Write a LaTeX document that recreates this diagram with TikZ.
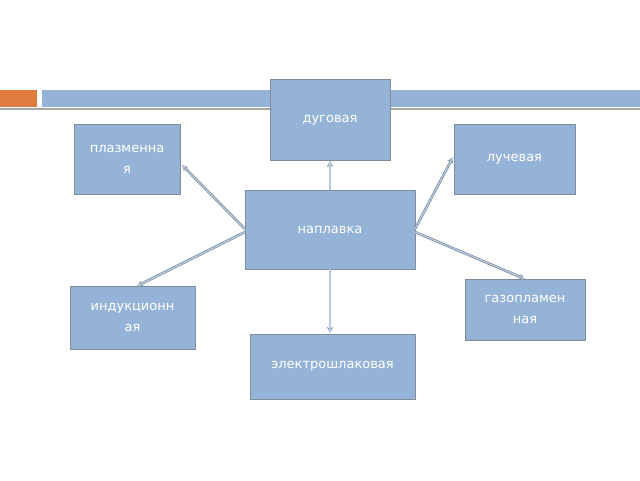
\documentclass[tikz,border=0pt]{standalone}
\usepackage{fontspec}
\setmainfont{DejaVu Sans}
\usetikzlibrary{arrows.meta}
\definecolor{boxfill}{HTML}{95B3D7}
\definecolor{boxline}{HTML}{7F8C99}
\definecolor{orng}{HTML}{E07B40}
\begin{document}
\begin{tikzpicture}[x=1pt,y=-1pt,
  bx/.style={draw=boxline,line width=1pt,fill=boxfill,text=white,font=\fontsize{13}{21}\selectfont,align=center,inner sep=0pt},
  conn/.style={draw=boxline,line width=2.6pt,-{Stealth[length=6pt,width=6pt]},shorten >=0pt},
  connin/.style={draw=boxfill!70!white,line width=1.2pt,-{Stealth[length=4pt,width=4pt]}}]
\useasboundingbox (0,0) rectangle (640,480);
\fill[white] (0,0) rectangle (640,480);
\fill[orng] (0,90) rectangle (37,107);
\fill[boxfill] (42,90) rectangle (640,107);
\fill[gray!70] (0,108) rectangle (640,110);
\node[bx,minimum width=120,minimum height=81] (d) at (330,120) {дуговая};
\node[bx,minimum width=106,minimum height=70] (p) at (127,159) {плазменна\\я};
\node[bx,minimum width=121,minimum height=70] (l) at (514.5,159) {лучевая};
\node[bx,minimum width=170,minimum height=79] (n) at (330,229.5) {наплавка};
\node[bx,minimum width=125,minimum height=63] (i) at (132.5,317.5) {индукционн\\ая};
\node[bx,minimum width=120,minimum height=61] (g) at (525,309.5) {газопламен\\ная};
\node[bx,minimum width=165,minimum height=65] (e) at (332.5,366.5) {электрошлаковая};
\coordinate (nT) at (330,190);
\coordinate (nB) at (330,269);
\coordinate (nL1) at (245,229);
\coordinate (nL2) at (245,232);
\coordinate (nR1) at (415,229);
\coordinate (nR2) at (415,232);
\coordinate (dB) at (330,161);
\coordinate (pR) at (182,165);
\coordinate (lL) at (453,157);
\coordinate (iT) at (137,286);
\coordinate (gT) at (525,279);
\coordinate (eT) at (330,333);
\foreach \a/\b in {nT/dB,nL1/pR,nR1/lL,nL2/iT,nR2/gT,nB/eT}{
  \draw[conn] (\a) -- (\b);
  \draw[connin] (\a) -- (\b);
}
\end{tikzpicture}
\end{document}
